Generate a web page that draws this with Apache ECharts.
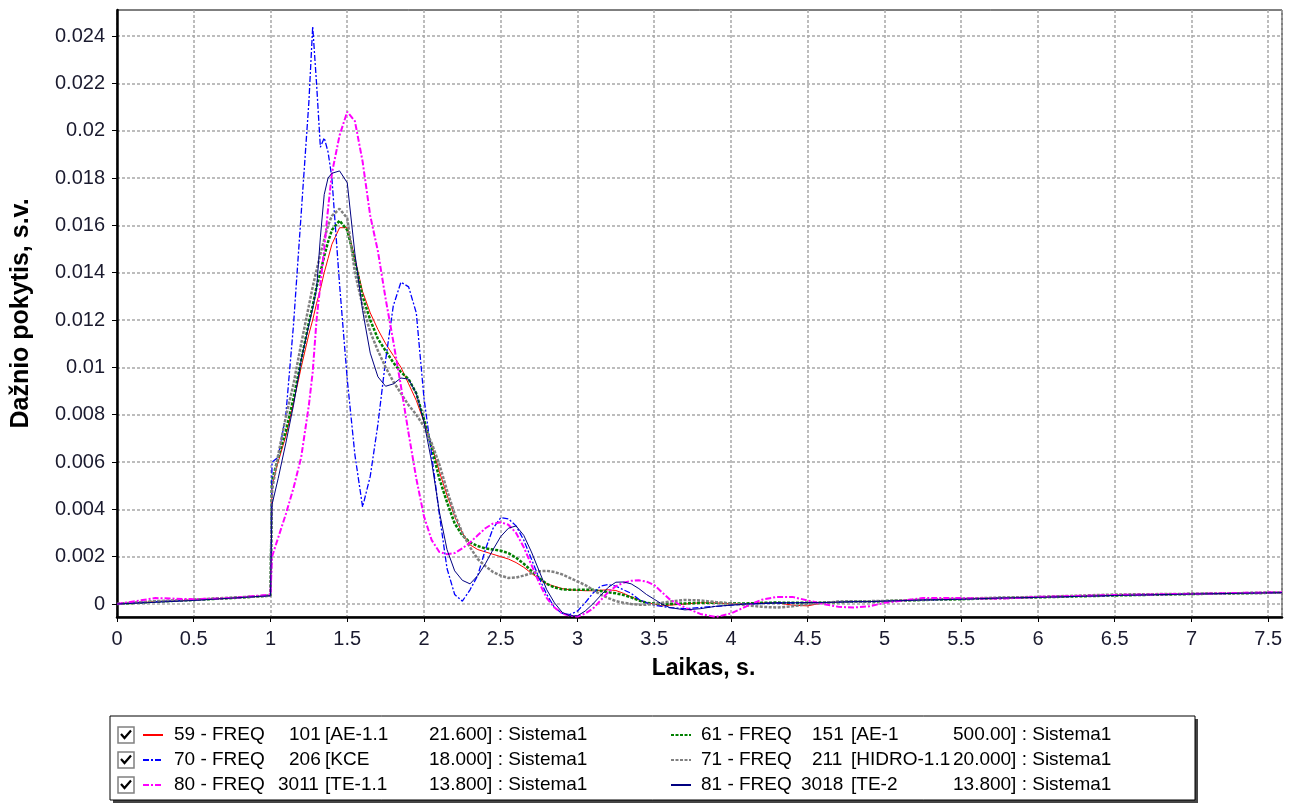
<!DOCTYPE html>
<html>
<head>
<meta charset="utf-8">
<title>Dažnio pokytis</title>
<script src="https://cdn.jsdelivr.net/npm/echarts@6/dist/echarts.min.js"></script>
<style>
html, body { margin: 0; padding: 0; background: #fff; }
#chart { width: 1304px; height: 807px; }
</style>
</head>
<body>
<div id="chart"></div>
<script>
// time, s
var time = [
    0, 0.25, 0.5, 0.75, 1.0,
    1.01, 1.05, 1.1, 1.15, 1.2, 1.25, 1.275, 1.3, 1.325, 1.35, 1.375, 1.4,
    1.45, 1.5, 1.55, 1.6, 1.65, 1.7, 1.75, 1.8, 1.85, 1.9, 1.95, 2.0,
    2.05, 2.1, 2.15, 2.2, 2.25, 2.3, 2.35, 2.4, 2.45, 2.5, 2.55, 2.6,
    2.65, 2.7, 2.75, 2.8, 2.85, 2.9, 2.95, 3.0, 3.05, 3.1, 3.15, 3.2,
    3.25, 3.3, 3.35, 3.4, 3.45, 3.5, 3.55, 3.6,
    3.7, 3.8, 3.9, 4.0, 4.1, 4.2, 4.3, 4.4, 4.5, 4.6, 4.7, 4.8, 4.9, 5.0,
    5.25, 5.5, 5.75, 6.0, 6.5, 7.0, 7.59
];

// frequency deviation, p.u.
var f59 = [
    0, 0.0001, 0.00017, 0.00025, 0.00035,
    0.0050, 0.0060, 0.0071, 0.0085, 0.0100, 0.0114, 0.0120, 0.0127, 0.0133, 0.0140, 0.0146, 0.0152,
    0.0159, 0.0159, 0.0146, 0.0132, 0.0123, 0.0116, 0.0110, 0.0105, 0.0100, 0.0093, 0.0086, 0.0077,
    0.0067, 0.0056, 0.0046, 0.0037, 0.0030, 0.0025, 0.0023, 0.0022, 0.0021, 0.0020, 0.0019, 0.00175,
    0.00155, 0.0013, 0.00105, 0.00085, 0.00075, 0.00065, 0.0006, 0.00058, 0.00056, 0.00056, 0.00058, 0.0006,
    0.00057, 0.00045, 0.0003, 0.00017, 0.00005, 0, -0.00008, -0.00005,
    0, 0.00005, 0.00005, 0, 0.00002, 0.00005, 0.00005, -0.00005, -0.00008, 0.00005, 0.00008, 0.0001, 0.0001, 0.00012,
    0.00017, 0.00022, 0.00025, 0.00028, 0.00037, 0.00042, 0.00048
];
var f61 = [
    0, 0.0001, 0.00017, 0.00025, 0.00035,
    0.0052, 0.0062, 0.0073, 0.0087, 0.0103, 0.0119, 0.0126, 0.0134, 0.0140, 0.0147, 0.0153, 0.0158,
    0.0162, 0.0158, 0.0145, 0.0130, 0.0120, 0.0112, 0.0107, 0.0102, 0.0098, 0.0095, 0.0089, 0.0078,
    0.0066, 0.0053, 0.0043, 0.0034, 0.0029, 0.0026, 0.00245, 0.00235, 0.0023, 0.00225, 0.00215, 0.00195,
    0.0017, 0.0014, 0.0011, 0.00085, 0.0007, 0.00062, 0.0006, 0.0006, 0.0006, 0.0006, 0.00055, 0.0005,
    0.00045, 0.00038, 0.00028, 0.00015, 0.00005, 0.00002, 0, 0,
    0.00002, 0.00005, 0.00005, 0.00003, 0.00002, 0.00005, 0.00006, 0.00005, 0.00005, 0.00006, 0.00008, 0.0001, 0.0001, 0.00012,
    0.00017, 0.0002, 0.00025, 0.00028, 0.00036, 0.00042, 0.00048
];
var f70 = [
    0, 0.0001, 0.00017, 0.00025, 0.00035,
    0.0060, 0.0062, 0.0080, 0.0118, 0.0165, 0.0212, 0.0244, 0.0220, 0.0193, 0.0197, 0.0191, 0.0180,
    0.0135, 0.0095, 0.0063, 0.0041, 0.0054, 0.0076, 0.0103, 0.0126, 0.0136, 0.0134, 0.0123, 0.0087,
    0.0063, 0.0038, 0.0015, 0.0004, 0.00012, 0.0006, 0.0012, 0.0023, 0.0032, 0.00365, 0.0036, 0.0033,
    0.0027, 0.0019, 0.0011, 0.0004, -0.00015, -0.0004, -0.00045, -0.0003, 0.00005, 0.00045, 0.00075, 0.00082,
    0.00075, 0.0006, 0.00045, 0.0002, 0.00005, -0.00005, -0.0001, -0.00015,
    -0.0002, -0.00015, -0.0001, -0.00005, 0, 0.00002, 0.00004, 0.00005, 0.00006, 0.00006, 0.00008, 0.0001, 0.0001, 0.00012,
    0.00017, 0.0002, 0.00025, 0.00028, 0.00036, 0.00042, 0.00048
];
var f71 = [
    0, 0.00012, 0.00018, 0.00027, 0.00035,
    0.0048, 0.0063, 0.0079, 0.0093, 0.0110, 0.0126, 0.0134, 0.0141, 0.0148, 0.0154, 0.0160, 0.0164,
    0.0167, 0.0163, 0.0140, 0.0126, 0.0115, 0.0107, 0.0100, 0.0094, 0.0089, 0.0084, 0.0080, 0.0075,
    0.0068, 0.0059, 0.0048, 0.0038, 0.0030, 0.0024, 0.0019, 0.0016, 0.00135, 0.0012, 0.0011, 0.00112,
    0.0012, 0.0013, 0.00138, 0.0014, 0.00135, 0.00125, 0.0011, 0.00095, 0.0008, 0.0006, 0.0004, 0.00025,
    0.00012, 0.00005, 0, -0.00003, -0.00003, 0, 0.00005, 0.0001,
    0.00017, 0.00015, 0.00008, 0.00002, -0.00005, -0.00012, -0.00015, -0.0001, 0, 0.00005, 0.0001, 0.00012, 0.00012, 0.00013,
    0.00018, 0.00022, 0.00027, 0.0003, 0.0004, 0.00043, 0.00048
];
var f80 = [
    0, 0.00025, 0.0002, 0.00025, 0.0004,
    0.0020, 0.0028, 0.0038, 0.0049, 0.0062, 0.0084, 0.0098, 0.0120, 0.0135, 0.0150, 0.0167, 0.0182,
    0.0198, 0.0208, 0.0204, 0.0187, 0.0164, 0.0149, 0.0129, 0.0111, 0.0092, 0.0072, 0.0053, 0.0037,
    0.0027, 0.0022, 0.0021, 0.00215, 0.00235, 0.0026, 0.0029, 0.0032, 0.0034, 0.00345, 0.00335, 0.0030,
    0.0024, 0.00165, 0.0009, 0.00025, -0.00015, -0.0004, -0.0005, -0.00053, -0.0004, -0.0002, 0.00015, 0.0005,
    0.00075, 0.0009, 0.00098, 0.0010, 0.00095, 0.0008, 0.0005, 0.0002,
    -0.00015, -0.00042, -0.00055, -0.0004, -0.0001, 0.00018, 0.0003, 0.0003, 0.00015, 0, -0.00012, -0.00015, -0.0001, 0.00005,
    0.00025, 0.00025, 0.00022, 0.0003, 0.00038, 0.00043, 0.0005
];
var f81 = [
    0, 0.00007, 0.00015, 0.00025, 0.00035,
    0.0042, 0.0053, 0.0068, 0.0084, 0.0103, 0.0118, 0.0125, 0.0133, 0.0155, 0.0173, 0.0180, 0.0182,
    0.0183, 0.0178, 0.0148, 0.0124, 0.0106, 0.0096, 0.0092, 0.0093, 0.00955, 0.0095, 0.0089, 0.0077,
    0.0060, 0.0039, 0.0023, 0.0014, 0.0010, 0.00085, 0.0012, 0.0017, 0.0023, 0.00285, 0.0032, 0.0033,
    0.0029, 0.0022, 0.0014, 0.0006, 0.00005, -0.00035, -0.0005, -0.0005, -0.0003, 0, 0.00035, 0.0007,
    0.00092, 0.00093, 0.00085, 0.00065, 0.0004, 0.0002, 0, -0.00015,
    -0.00025, -0.0002, -0.0001, -0.00005, 0, 0.00002, 0.00005, 0.00005, 0.00006, 0.00006, 0.00008, 0.0001, 0.0001, 0.00012,
    0.00017, 0.0002, 0.00025, 0.00028, 0.00036, 0.00042, 0.00048
];

// legend text parts
var codes = ['59 - FREQ', '61 - FREQ', '70 - FREQ', '71 - FREQ', '80 - FREQ', '81 - FREQ'];
var busNums = ['101', '151', '206', '211', '3011', '3018'];
var busNames = ['[AE-1.1', '[AE-1', '[KCE', '[HIDRO-1.1', '[TE-1.1', '[TE-2'];
var busKv = ['21.600]', '500.00]', '18.000]', '20.000]', '13.800]', '13.800]'];
var yTicks = [0, 0.002, 0.004, 0.006, 0.008, 0.01, 0.012, 0.014, 0.016, 0.018, 0.02, 0.022, 0.024];

var values = [f59, f61, f70, f71, f80, f81];
var colors = ['#ff0000', '#008000', '#0000ff', '#808080', '#ff00ff', '#000080'];
var widths = [1, 2.5, 1.3, 2.5, 2, 1];
var dashes = ['solid', [3, 1.5], [6, 2, 2, 2], [3, 1.5], [6, 2, 2, 2], 'solid'];

var names = codes.map(function (c, i) {
    return c + ' ' + busNums[i] + ' ' + busNames[i] + ' ' + busKv[i] + ' : Sistema1';
});

var font = 'Liberation Sans, Arial, sans-serif';

var dom = document.getElementById('chart');
var myChart = echarts.init(dom);
var option = null;

// all tokens left-aligned in fixed boxes; numbers pushed right by digit count
function legendText(name) {
    var i = names.indexOf(name);
    return '{a|' + codes[i] + '}{b' + busNums[i].length + '|' + busNums[i] + '}{c|' + busNames[i] + '}{d|' + busKv[i] + ' : Sistema1}';
}

function legendRich(aPad, aw, cPad, cw) {
    var base = { fontSize: 19, fontFamily: font, color: '#000', lineHeight: 20 };
    return {
        a: Object.assign({ width: aw, padding: [0, 0, 0, aPad] }, base),
        b3: Object.assign({ width: 32, padding: [0, 0, 0, 12] }, base),
        b4: Object.assign({ width: 43, padding: [0, 0, 0, 1] }, base),
        c: Object.assign({ width: cw, padding: [0, 0, 0, cPad] }, base),
        d: base
    };
}

var rows = [735, 760, 785];
var graphics = [
    { type: 'rect', z: 1, shape: { x: 113, y: 719, width: 1085, height: 84 }, style: { fill: '#444' } },
    { type: 'rect', z: 1, shape: { x: 110, y: 716, width: 1085, height: 84 }, style: { fill: '#fff', stroke: '#000', lineWidth: 1 } }
];
rows.forEach(function (c) {
    graphics.push({ type: 'rect', z: 2, shape: { x: 118, y: c - 8, width: 16, height: 16 }, style: { fill: '#fff', stroke: '#808080', lineWidth: 1.5 } });
    graphics.push({ type: 'polyline', z: 2, shape: { points: [[121, c - 1], [124.5, c + 3], [131, c - 4.5]] }, style: { stroke: '#000', lineWidth: 2.2, fill: null } });
});

var legendBase = {
    orient: 'vertical',
    top: 725,
    padding: 0,
    itemWidth: 20,
    itemHeight: 14,
    itemGap: 5,
    selectedMode: false,
    itemStyle: { opacity: 0, borderWidth: 0 },
    formatter: legendText
};

option = {
    animation: false,
    backgroundColor: '#fff',
    grid: {
        left: 117,
        right: 22,
        top: 10,
        bottom: 190,
        show: true,
        borderColor: '#000',
        borderWidth: 1
    },
    legend: [
        Object.assign({}, legendBase, {
            data: [names[0], names[2], names[4]],
            left: 142,
            textStyle: { fontSize: 19, fontFamily: font, color: '#000', lineHeight: 20, rich: legendRich(6, 103, 4, 104) }
        }),
        Object.assign({}, legendBase, {
            data: [names[1], names[3], names[5]],
            left: 670,
            textStyle: { fontSize: 19, fontFamily: font, color: '#000', lineHeight: 20, rich: legendRich(5, 99, 7, 102) }
        })
    ],
    xAxis: [{
        type: 'value',
        min: 0,
        max: 7.59,
        interval: 0.5,
        name: 'Laikas, s.',
        nameLocation: 'middle',
        nameGap: 40,
        nameTextStyle: { fontSize: 23, fontWeight: 'bold', fontFamily: font, color: '#000', padding: [0, 0, 0, 8] },
        axisLine: { onZero: false, lineStyle: { color: '#000', width: 2.5 } },
        axisTick: { length: 5, lineStyle: { color: '#000' } },
        axisLabel: { fontSize: 20, fontFamily: font, color: '#1a1a2e', margin: 12, showMaxLabel: false },
        splitLine: { show: true, lineStyle: { color: '#a8a8a8', width: 1.5, type: [3, 2] } }
    }],
    yAxis: [{
        type: 'value',
        min: -0.00055,
        max: 0.0251,
        name: 'Dažnio pokytis, s.v.',
        nameLocation: 'middle',
        nameGap: 83,
        nameTextStyle: { fontSize: 25, fontWeight: 'bold', fontFamily: font, color: '#000' },
        axisLine: { lineStyle: { color: '#000', width: 2.5 } },
        axisTick: { length: 5, customValues: yTicks, lineStyle: { color: '#000' } },
        axisLabel: { fontSize: 20, fontFamily: font, color: '#1a1a2e', margin: 12, customValues: yTicks },
        splitLine: { show: true, lineStyle: { color: '#a8a8a8', width: 1.5, type: [3, 2] } }
    }],
    graphic: graphics,
    series: names.map(function (n, i) {
        return {
            name: n,
            type: 'line',
            showSymbol: false,
            symbol: 'none',
            color: colors[i],
            lineStyle: { color: colors[i], width: widths[i], type: dashes[i] },
            data: time.map(function (t, k) { return [t, values[i][k]]; })
        };
    })
};

if (option && typeof option === 'object') {
    myChart.setOption(option, true);
}
</script>
</body>
</html>
